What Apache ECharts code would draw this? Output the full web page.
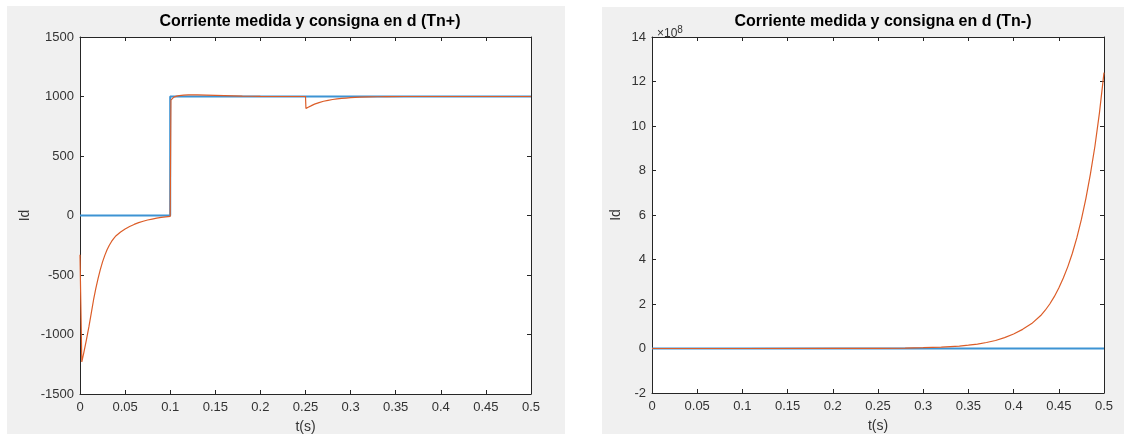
<!DOCTYPE html>
<html>
<head>
<meta charset="utf-8">
<script src="https://cdn.jsdelivr.net/npm/echarts@6/dist/echarts.min.js"></script>
<style>
  html, body { margin: 0; padding: 0; background: #fff; }
  .fig { position: absolute; background: #f0f0f0; }
  #chart { position: absolute; left: 0; top: 0; width: 1124px; height: 434px; }
</style>
</head>
<body>
<div class="fig" style="left:7px;top:6px;width:558px;height:428px"></div>
<div class="fig" style="left:602px;top:7px;width:522px;height:427px"></div>
<div id="chart"></div>
<script>
// ticks
const xTicks = [0, 0.05, 0.1, 0.15, 0.2, 0.25, 0.3, 0.35, 0.4, 0.45, 0.5];
const yTicksLeft = [-1500, -1000, -500, 0, 500, 1000, 1500];
const yTicksRight = [-2, 0, 2, 4, 6, 8, 10, 12, 14]; // x 10^8

// left plot (Tn+): setpoint and measured current, [t, Id]
const refLeft = [[0, 0], [0.1, 0], [0.1, 1000], [0.5, 1000]];
const measLeft = [
  [0, -330], [0.002, -1230], [0.004, -1160], [0.007, -1050], [0.01, -930],
  [0.0125, -820], [0.015, -710], [0.0175, -615], [0.02, -530], [0.0225, -455],
  [0.025, -390], [0.0275, -335], [0.03, -288], [0.0325, -250], [0.035, -218],
  [0.0375, -192], [0.04, -170], [0.045, -138], [0.05, -113], [0.055, -92],
  [0.06, -75], [0.065, -60], [0.07, -48], [0.075, -38], [0.08, -30],
  [0.085, -22], [0.09, -16], [0.095, -11], [0.1, -7],
  [0.1008, 970], [0.102, 985], [0.104, 995], [0.107, 1003], [0.11, 1008],
  [0.115, 1012], [0.12, 1014], [0.13, 1013], [0.14, 1011], [0.15, 1009],
  [0.16, 1007], [0.17, 1005], [0.18, 1003], [0.19, 1002], [0.2, 1001],
  [0.22, 1000], [0.25, 1000],
  [0.2505, 900], [0.253, 910], [0.256, 921], [0.26, 936], [0.265, 949],
  [0.27, 960], [0.275, 968], [0.28, 975], [0.285, 980], [0.29, 984],
  [0.295, 987], [0.3, 990], [0.31, 994], [0.32, 996.5], [0.33, 998],
  [0.34, 999], [0.36, 1000], [0.5, 1000]
];

// right plot (Tn-): values in units of 1e8
const refRight = [[0, 0], [0.5, 0]];
const measRight = [
  [0, 0], [0.1, 0], [0.2, 0.003], [0.25, 0.008], [0.28, 0.02], [0.3, 0.035],
  [0.32, 0.06], [0.34, 0.11], [0.35, 0.15], [0.36, 0.2], [0.37, 0.27],
  [0.38, 0.36], [0.39, 0.49], [0.4, 0.65], [0.41, 0.86], [0.42, 1.12],
  [0.43, 1.48], [0.435, 1.72], [0.44, 2.0], [0.445, 2.33], [0.45, 2.72],
  [0.455, 3.17], [0.46, 3.68], [0.465, 4.28], [0.47, 4.98], [0.475, 5.8],
  [0.48, 6.75], [0.485, 7.85], [0.49, 9.1], [0.495, 10.6], [0.5, 12.4]
];

const axisColor = '#262626';
const labelColor = '#333';
const fontFamily = 'Liberation Sans, Arial, sans-serif';

function xAxes(gridIndex) {
  const base = {
    gridIndex: gridIndex,
    type: 'value',
    min: xTicks[0],
    max: xTicks[xTicks.length - 1],
    interval: xTicks[1] - xTicks[0],
    splitLine: { show: false },
    axisLine: { show: true, onZero: false, lineStyle: { color: axisColor, width: 1 } },
    axisTick: { show: true, inside: true, length: 4, lineStyle: { color: axisColor } }
  };
  return [
    Object.assign({}, base, {
      position: 'bottom',
      name: 't(s)',
      nameLocation: 'middle',
      nameGap: 26,
      nameTextStyle: { color: labelColor, fontSize: 14, fontFamily: fontFamily },
      axisLabel: { color: labelColor, fontSize: 13, fontFamily: fontFamily, margin: 7,
        showMinLabel: true, showMaxLabel: true }
    }),
    Object.assign({}, base, { position: 'top', axisLabel: { show: false } })
  ];
}

function yAxes(gridIndex, ticks, nameGap) {
  const base = {
    gridIndex: gridIndex,
    type: 'value',
    min: ticks[0],
    max: ticks[ticks.length - 1],
    interval: ticks[1] - ticks[0],
    splitLine: { show: false },
    axisLine: { show: true, onZero: false, lineStyle: { color: axisColor, width: 1 } },
    axisTick: { show: true, inside: true, length: 4, lineStyle: { color: axisColor } }
  };
  return [
    Object.assign({}, base, {
      position: 'left',
      name: 'Id',
      nameLocation: 'middle',
      nameGap: nameGap,
      nameTextStyle: { color: labelColor, fontSize: 14, fontFamily: fontFamily },
      axisLabel: { color: labelColor, fontSize: 13, fontFamily: fontFamily, margin: 6,
        showMinLabel: true, showMaxLabel: true, formatter: (v) => String(v) }
    }),
    Object.assign({}, base, { position: 'right', axisLabel: { show: false } })
  ];
}

function line(data, color, width, xi, yi) {
  return {
    type: 'line', data: data, xAxisIndex: xi, yAxisIndex: yi,
    showSymbol: false, symbol: 'none', animation: false,
    lineStyle: { color: color, width: width }
  };
}

const chart = echarts.init(document.getElementById('chart'), null, { renderer: 'canvas' });
chart.setOption({
  backgroundColor: 'transparent',
  animation: false,
  title: [
    { text: 'Corriente medida y consigna en d (Tn+)', left: 305, top: 9, textAlign: 'center',
      textStyle: { fontSize: 16, fontWeight: 'bold', color: '#000', fontFamily: fontFamily } },
    { text: 'Corriente medida y consigna en d (Tn-)', left: 878, top: 9, textAlign: 'center',
      textStyle: { fontSize: 16, fontWeight: 'bold', color: '#000', fontFamily: fontFamily } },
    { text: '×10{s|8}', left: 652, top: 20,
      textStyle: { fontSize: 12, fontWeight: 'normal', color: labelColor, fontFamily: fontFamily,
        rich: { s: { fontSize: 10, verticalAlign: 'top', padding: [0, 0, 7, 0], color: labelColor } } } }
  ],
  grid: [
    { left: 80, right: 593, top: 37, bottom: 40, outerBoundsMode: 'none',
      show: true, backgroundColor: '#fff', borderWidth: 0 },
    { left: 652, right: 20, top: 37, bottom: 41, outerBoundsMode: 'none',
      show: true, backgroundColor: '#fff', borderWidth: 0 }
  ],
  xAxis: xAxes(0).concat(xAxes(1)),
  yAxis: yAxes(0, yTicksLeft, 48).concat(yAxes(1, yTicksRight, 29)),
  series: [
    line(refLeft, '#3d93d3', 2, 0, 0),
    line(measLeft, '#dc5d28', 1.2, 0, 0),
    line(refRight, '#3d93d3', 2, 2, 2),
    line(measRight, '#dc5d28', 1.2, 2, 2)
  ]
});
</script>
</body>
</html>
